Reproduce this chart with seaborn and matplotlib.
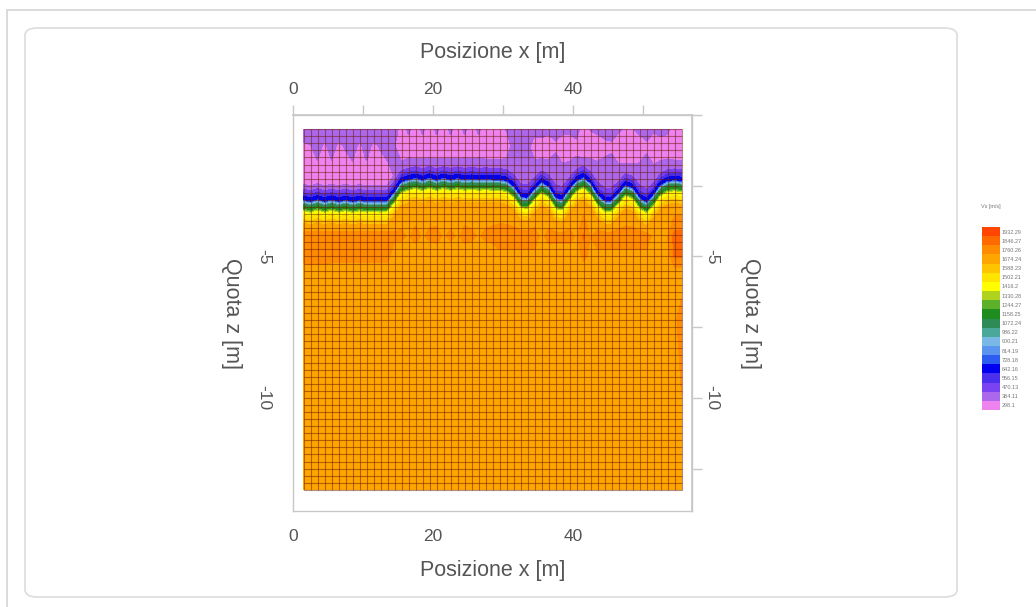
import numpy as np
import matplotlib.pyplot as plt
import seaborn as sns
from matplotlib.colors import ListedColormap, BoundaryNorm
from matplotlib.patches import FancyBboxPatch, Rectangle

sns.set_theme(style="white")
plt.rcParams['font.family'] = ['Liberation Sans', 'DejaVu Sans']

# Vs scale of the legend (m/s), bottom to top
VS_LABELS = ["298.1", "384.11", "470.13", "556.15", "642.16", "728.18", "814.19",
             "900.21", "986.22", "1072.24", "1158.25", "1244.27", "1330.28", "1416.2",
             "1502.21", "1588.23", "1674.24", "1760.26", "1846.27", "1932.29"]
VS_COLORS = ['#ee82ee', '#ac68ec', '#7a42f0', '#4a30ee', '#0000f0', '#2c5cf0', '#5a96f0',
             '#7ab8e6', '#4aa89a', '#2e8b57', '#1e8c1e', '#5cb02a', '#b0d41e', '#ffff00',
             '#ffe400', '#ffc400', '#ffa500', '#ff8c00', '#ff6a00', '#ff4500']

# measurement columns (m), one per grid cell edge
x_nodes = np.arange(1.5, 56.0, 1.0)

# depth of the blue (low velocity) band under the soft cover, per column
z_band = [-2.92, -2.98, -2.90, -2.98, -2.91, -2.98, -2.92, -2.98, -2.93, -2.97, -2.96,
          -2.97, -2.95, -2.65, -2.28, -2.20, -2.14, -2.22, -2.13, -2.22, -2.14, -2.21,
          -2.15, -2.20, -2.17, -2.20, -2.18, -2.20, -2.20, -2.25, -2.45, -2.80, -2.85,
          -2.55, -2.30, -2.45, -2.85, -2.90, -2.55, -2.25, -2.12, -2.35, -2.75, -2.95,
          -2.95, -2.70, -2.40, -2.50, -2.85, -3.00, -2.75, -2.40, -2.25, -2.22, -2.25]

# cover layer: top row, z=-1.1 and just above the band
v_top = [430, 430, 430, 430, 430, 430, 430, 430, 430, 430, 430, 430, 430, 430, 340,
         400, 340, 400, 340, 400, 340, 400, 340, 400, 340, 400, 340, 370, 350, 390,
         440, 440, 440, 420, 420, 410, 420, 410, 410, 420, 340, 390, 410, 420, 420,
         400, 370, 380, 410, 420, 400, 410, 400, 340, 370]
v_mid = [370, 380, 410, 370, 410, 370, 390, 410, 370, 410, 370, 390, 410, 390, 310,
         350, 310, 350, 310, 350, 310, 350, 310, 350, 310, 350, 310, 330, 320, 340,
         410, 430, 410, 340, 350, 330, 370, 330, 330, 360, 310, 340, 330, 360, 370,
         330, 310, 310, 330, 370, 330, 350, 350, 310, 320]
v_low = [345, 345, 345, 345, 345, 345, 345, 345, 345, 345, 345, 345, 345, 390, 395,
         395, 395, 395, 395, 395, 395, 395, 395, 395, 395, 395, 395, 395, 395, 400,
         420, 440, 440, 420, 400, 420, 440, 440, 420, 400, 395, 410, 440, 440, 440,
         420, 400, 410, 440, 440, 420, 400, 395, 395, 395]

# velocity steps through the band, offsets from z_band (m)
band_dz = [0.25, 0.12, 0.00, -0.10, -0.24, -0.42, -0.50, -0.72, -0.95]
band_vs = [490, 590, 680, 720, 1100, 1250, 1420, 1560, 1700]

# stiffer patches below the band
v_red1 = [1810, 1810, 1810, 1810, 1810, 1810, 1810, 1810, 1810, 1810, 1810, 1810, 1810,
          1780, 1780, 1750, 1790, 1750, 1780, 1790, 1750, 1780, 1750, 1790, 1780, 1750,
          1780, 1790, 1800, 1800, 1800, 1800, 1800, 1800, 1740, 1790, 1790, 1790, 1790,
          1750, 1860, 1760, 1800, 1800, 1800, 1800, 1800, 1800, 1800, 1800, 1740, 1740,
          1760, 1880, 1880]
v_red2 = [1790, 1810, 1810, 1810, 1790, 1790, 1790, 1790, 1790, 1790, 1790, 1790, 1790,
          1700, 1700, 1700, 1700, 1700, 1700, 1700, 1700, 1700, 1700, 1700, 1700, 1700,
          1700, 1700, 1740, 1740, 1740, 1740, 1740, 1740, 1710, 1710, 1710, 1710, 1710,
          1710, 1780, 1740, 1740, 1740, 1740, 1740, 1740, 1740, 1740, 1740, 1700, 1700,
          1700, 1860, 1860]
v_deep = [1710] * 53 + [1740, 1800]
v_base = 1710

z_top, z_mid, z_red1, z_red2, z_base, z_deep, z_bot = -0.5, -1.1, -4.3, -5.0, -5.6, -7.2, -13.25

zb = np.array(z_band)
n = len(x_nodes)
rows_z = [np.full(n, z_top), np.full(n, z_mid), zb + 0.55]
rows_v = [np.array(v_top), np.array(v_mid), np.array(v_low)]
for dz, vs in zip(band_dz, band_vs):
    rows_z.append(zb + dz)
    rows_v.append(np.full(n, vs))
for zz, vv in [(z_red1, v_red1), (z_red2, v_red2), (z_base, [v_base] * n),
               (z_deep, v_deep), (z_bot, [v_base] * n)]:
    rows_z.append(np.full(n, zz))
    rows_v.append(np.array(vv, dtype=float))
Z = np.vstack(rows_z)
V = np.vstack(rows_v)
X = np.tile(x_nodes, (Z.shape[0], 1))

levels = [float(s) for s in VS_LABELS] + [2018.3]
cmap = ListedColormap(VS_COLORS)
norm = BoundaryNorm(levels, cmap.N)

fig = plt.figure(figsize=(10.36, 6.07), dpi=100)
W, H = 1036, 607

# frames around the chart
fig.add_artist(Rectangle((7 / W, -0.1), 1.2, 1 - 10 / H + 0.1, transform=fig.transFigure,
                         fill=False, edgecolor='#d4d4d4', lw=1.2))
fig.add_artist(FancyBboxPatch((25 / W, 1 - 597 / H), (957 - 25) / W, (597 - 28) / H,
                              boxstyle="round,pad=0,rounding_size=0.012",
                              transform=fig.transFigure, fill=False,
                              edgecolor='#dcdcdc', lw=1.2))

ax = fig.add_axes([293 / W, 1 - 511 / H, (692 - 293) / W, (511 - 115) / H])
cs = ax.contourf(X, Z, V, levels=levels, cmap=cmap, norm=norm)

# cell grid
x_edges = np.arange(1.5, 56.0, 1.0)
z_edges = np.arange(-0.5, -13.3, -0.25)
ax.vlines(x_edges, z_bot, z_top, colors='#6a1a00', alpha=0.5, lw=0.8)
ax.hlines(z_edges, 1.5, 55.5, colors='#6a1a00', alpha=0.5, lw=0.8)

ax.set_xlim(0, 57)
ax.set_ylim(-14, 0)

grey = '#555555'
spine_c = '#c8c8c8'
xt = [0, 10, 20, 30, 40, 50]
xl = ['0', '', '20', '', '40', '']
yt = [0, -2.5, -5, -7.5, -10, -12.5]
yl = ['', '', '-5', '', '-10', '']

ax.set_xticks(xt)
ax.set_xticklabels(xl)
ax.set_yticks(yt)
ax.set_yticklabels(yl, rotation=-90, va='center')
ax.tick_params(axis='both', colors=spine_c, labelcolor=grey, labelsize=12.5,
               length=7, width=1, direction='out')
ax.tick_params(axis='x', pad=6)
ax.tick_params(axis='y', pad=9)
for s in ax.spines.values():
    s.set_color(spine_c)
    s.set_linewidth(1)
ax.set_xlabel('Posizione x [m]', fontsize=15.5, color=grey, va='center')
ax.xaxis.set_label_coords(0.5, -0.149, transform=ax.transAxes)
ax.set_ylabel('Quota z [m]', fontsize=15.5, color=grey, rotation=-90, va='center', ha='center')
ax.yaxis.set_label_coords(-0.153, 0.5, transform=ax.transAxes)

top = ax.secondary_xaxis('top')
top.set_xticks(xt)
top.set_xticklabels(xl)
top.tick_params(colors=spine_c, labelcolor=grey, labelsize=12.5, length=7, width=1, pad=6)
top.set_xlabel('Posizione x [m]', fontsize=15.5, color=grey, va='center')
top.xaxis.set_label_coords(0.5, 1.159, transform=ax.transAxes)
top.spines['top'].set_color(spine_c)

right = ax.secondary_yaxis('right')
right.set_yticks(yt)
right.set_yticklabels(yl, rotation=-90, va='center')
right.tick_params(colors=spine_c, labelcolor=grey, labelsize=12.5, length=7, width=1, pad=2)
right.set_ylabel('Quota z [m]', fontsize=15.5, color=grey, rotation=-90, va='center', ha='center')
right.yaxis.set_label_coords(1.147, 0.5, transform=ax.transAxes)
right.spines['right'].set_color(spine_c)

# colour scale
cax = fig.add_axes([982 / W, 1 - 410 / H, 18 / W, 183 / H])
cb = fig.colorbar(cs, cax=cax)
centers = [(levels[i] + levels[i + 1]) / 2 for i in range(len(VS_LABELS))]
cb.set_ticks(centers)
cb.set_ticklabels(VS_LABELS)
cb.outline.set_visible(False)
cax.minorticks_off()
cax.tick_params(which='both', length=0, labelsize=4, labelcolor='#777777', pad=1)
cax.set_title('Vs [m/s]', fontsize=4, color='#777777', pad=14)

fig.savefig('out.png', dpi=100)
